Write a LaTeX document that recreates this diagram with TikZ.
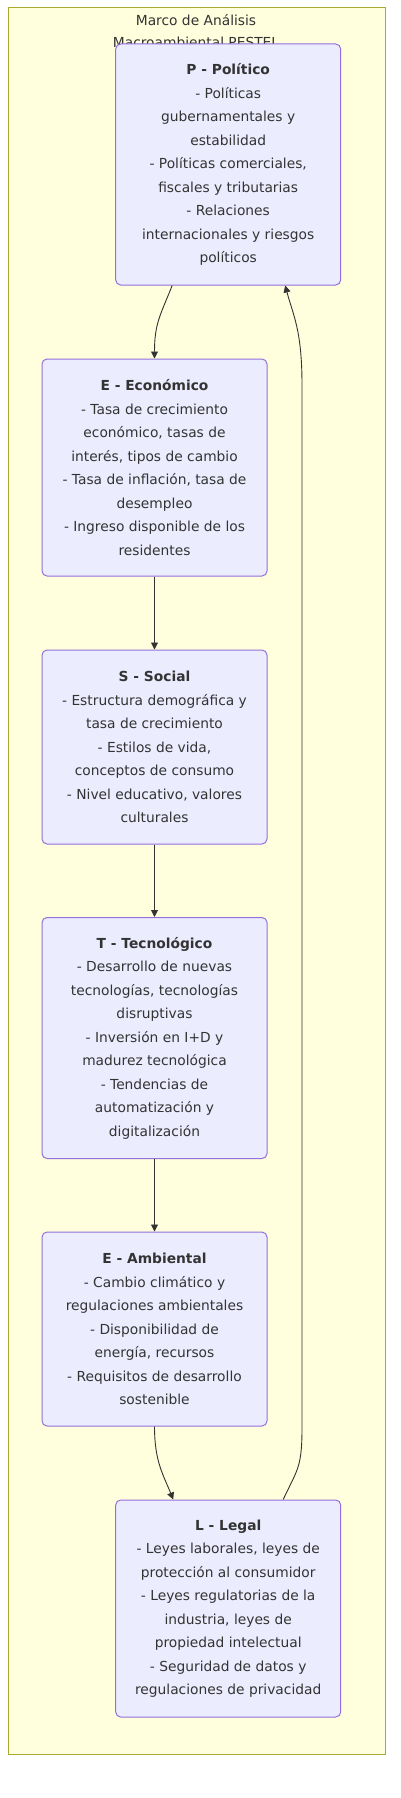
\documentclass[tikz,border=0pt]{standalone}
\usepackage{fontspec}
\setmainfont{DejaVu Sans}
\usetikzlibrary{arrows.meta,calc}
\definecolor{boxfill}{HTML}{ECECFF}
\definecolor{boxline}{HTML}{9370DB}
\definecolor{groupfill}{HTML}{FFFFDE}
\definecolor{groupline}{HTML}{AAAA33}
\definecolor{inktext}{HTML}{333333}
\tikzset{
    factor/.style={
        draw=boxline, fill=boxfill, rounded corners=5pt, line width=1pt,
        minimum width=225pt, inner sep=0pt, align=center, text=inktext,
        font=\fontsize{13.8pt}{23.5pt}\selectfont
    },
    flow/.style={
        draw=inktext, line width=0.9pt,
        -{Triangle[length=7pt,width=7pt]}
    }
}

\begin{document}
\begin{tikzpicture}[x=1pt,y=-1pt]
    \useasboundingbox (0,0) rectangle (401,1798);
    \draw[fill=groupfill, draw=groupline, line width=1pt] (8,8) rectangle (385,1754);
    \node[text=inktext, align=center, font=\fontsize{13.8pt}{22pt}\selectfont] (title) at (196,31)
        {Marco de Análisis\\Macroambiental PESTEL};

    \node[factor, minimum height=241pt] (P) at (228.2,164.5)
        {\textbf{P - Político}\\- Políticas\\gubernamentales y\\estabilidad\\- Políticas comerciales,\\fiscales y tributarias\\- Relaciones\\internacionales y riesgos\\políticos};
    \node[factor, minimum height=217pt] (E) at (154.5,467.5)
        {\textbf{E - Económico}\\- Tasa de crecimiento\\económico, tasas de\\interés, tipos de cambio\\- Tasa de inflación, tasa de\\desempleo\\- Ingreso disponible de los\\residentes};
    \node[factor, minimum height=194pt] (S) at (154.5,747)
        {\textbf{S - Social}\\- Estructura demográfica y\\tasa de crecimiento\\- Estilos de vida,\\conceptos de consumo\\- Nivel educativo, valores\\culturales};
    \node[factor, minimum height=241pt] (T) at (154.5,1038)
        {\textbf{T - Tecnológico}\\- Desarrollo de nuevas\\tecnologías, tecnologías\\disruptivas\\- Inversión en I+D y\\madurez tecnológica\\- Tendencias de\\automatización y\\digitalización};
    \node[factor, minimum height=194pt] (A) at (154.5,1329)
        {\textbf{E - Ambiental}\\- Cambio climático y\\regulaciones ambientales\\- Disponibilidad de\\energía, recursos\\- Requisitos de desarrollo\\sostenible};
    \node[factor, minimum height=217pt] (L) at (228.2,1608.5)
        {\textbf{L - Legal}\\- Leyes laborales, leyes de\\protección al consumidor\\- Leyes regulatorias de la\\industria, leyes de\\propiedad intelectual\\- Seguridad de datos y\\regulaciones de privacidad};

    \coordinate (riseLow) at (302,1428);
    \coordinate (riseHigh) at (302,385);

    \draw[flow] ([xshift=-56pt]P.south) .. controls +(-12,30) and +(0,-35) .. (E.north);
    \draw[flow] (E) -- (S);
    \draw[flow] (S) -- (T);
    \draw[flow] (T) -- (A);
    \draw[flow] (A.south) .. controls +(0,35) and +(-10,-25) .. ([xshift=-55pt]L.north);
    \draw[flow] ([xshift=55pt]L.north) .. controls +(14,-30) and +(0,40) .. (riseLow)
        -- (riseHigh) .. controls +(0,-55) and +(8,30) .. ([xshift=57pt]P.south);
\end{tikzpicture}
\end{document}
